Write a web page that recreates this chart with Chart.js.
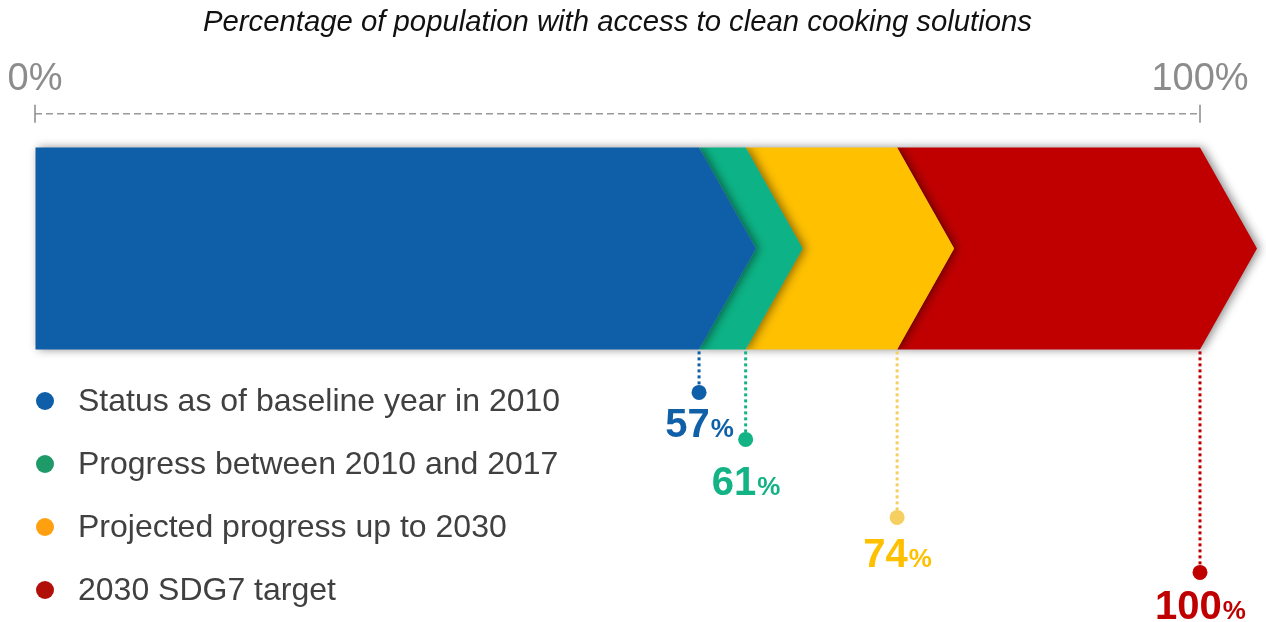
<!DOCTYPE html>
<html>
<head>
<meta charset="utf-8">
<script src="https://cdn.jsdelivr.net/npm/chart.js@4/dist/chart.umd.min.js"></script>
<style>
  html, body { margin: 0; padding: 0; background: #fff; }
  canvas { display: block; }
</style>
</head>
<body>
<canvas id="chart" width="1266" height="622"></canvas>
<script>
// data
const seriesNames = ['Status as of baseline year in 2010', 'Progress between 2010 and 2017', 'Projected progress up to 2030', '2030 SDG7 target'];
const segStart = [0, 57, 61, 74];
const segEnd = [57, 61, 74, 100];
const axisTicks = [0, 100];
const titleText = 'Percentage of population with access to clean cooking solutions';

// styles
const barColors = ['#0E5FA8', '#0DB386', '#FFC000', '#C00000'];
const legendColors = ['#0E5FA8', '#1E9A68', '#FFA010', '#B01008'];
const markerColors = ['#0E5FA8', '#13B386', '#F5D060', '#C00000'];
const labelColors = ['#1060A8', '#13B386', '#FFC000', '#C00000'];
const dropLen = [43, 90, 168, 223];
const labelOffset = [31, 42, 36, 33];
const CHEVRON = 57;
const FONT = '"Liberation Sans", Arial, sans-serif';

const chevronPlugin = {
  id: 'chevrons',
  beforeDatasetDraw(chart, args) {
    const ctx = chart.ctx;
    const i = args.index;
    const el = args.meta.data[0];
    const p = el.getProps(['x', 'y', 'base', 'height'], true);
    const top = p.y - p.height / 2, bot = p.y + p.height / 2;
    ctx.save();
    ctx.beginPath();
    ctx.moveTo(p.base, top);
    ctx.lineTo(p.x, top);
    ctx.lineTo(p.x + CHEVRON, p.y);
    ctx.lineTo(p.x, bot);
    ctx.lineTo(p.base, bot);
    if (i > 0) ctx.lineTo(p.base + CHEVRON, p.y);
    ctx.closePath();
    ctx.shadowColor = 'rgba(0,0,0,0.45)';
    ctx.shadowBlur = 10;
    ctx.shadowOffsetX = 3;
    ctx.fillStyle = barColors[i];
    ctx.fill();
    ctx.restore();
    return false;
  },
  afterDraw(chart) {
    const ctx = chart.ctx;
    const xs = chart.scales.x;
    ctx.save();
    // dashed axis line with tick marks crossing it
    const ay = chart.chartArea.top;
    const x0p = xs.getPixelForValue(axisTicks[0]);
    const x1p = xs.getPixelForValue(axisTicks[axisTicks.length - 1]);
    ctx.strokeStyle = '#999';
    ctx.lineWidth = 1.5;
    ctx.setLineDash([7, 4]);
    ctx.beginPath();
    ctx.moveTo(x0p, ay);
    ctx.lineTo(x1p, ay);
    ctx.stroke();
    ctx.setLineDash([]);
    ctx.strokeStyle = '#888';
    axisTicks.forEach(v => {
      const tx = xs.getPixelForValue(v);
      ctx.beginPath();
      ctx.moveTo(tx, ay - 9);
      ctx.lineTo(tx, ay + 9);
      ctx.stroke();
    });

    // drop lines, markers and value labels
    chart.data.datasets.forEach((ds, i) => {
      const el = chart.getDatasetMeta(i).data[0];
      const p = el.getProps(['x', 'y', 'height'], true);
      const bot = p.y + p.height / 2;
      const my = bot + dropLen[i];
      ctx.strokeStyle = markerColors[i];
      ctx.lineWidth = 3;
      ctx.setLineDash([3, 3]);
      ctx.beginPath();
      ctx.moveTo(p.x, bot + 2);
      ctx.lineTo(p.x, my);
      ctx.stroke();
      ctx.setLineDash([]);
      ctx.fillStyle = markerColors[i];
      ctx.beginPath();
      ctx.arc(p.x, my, 7.5, 0, Math.PI * 2);
      ctx.fill();

      const num = String(segEnd[i]);
      const fBig = 'bold 40px ' + FONT, fSmall = 'bold 26px ' + FONT;
      ctx.font = fBig;
      const w1 = ctx.measureText(num).width;
      ctx.font = fSmall;
      const w2 = ctx.measureText('%').width;
      const lx = p.x - (w1 + w2) / 2;
      const ly = my + labelOffset[i] + 14;
      ctx.fillStyle = labelColors[i];
      ctx.textBaseline = 'alphabetic';
      ctx.textAlign = 'left';
      ctx.font = fBig;
      ctx.fillText(num, lx, ly);
      ctx.font = fSmall;
      ctx.fillText('%', lx + w1 + 1, ly);
    });
    // legend
    ctx.font = '32px ' + FONT;
    ctx.textBaseline = 'middle';
    ctx.textAlign = 'left';
    seriesNames.forEach((name, i) => {
      const y = 401 + i * 63;
      ctx.fillStyle = legendColors[i];
      ctx.beginPath();
      ctx.arc(45, y, 9, 0, Math.PI * 2);
      ctx.fill();
      ctx.fillStyle = '#404040';
      ctx.fillText(name, 78, y + 1);
    });
    ctx.restore();
  }
};

new Chart(document.getElementById('chart'), {
  type: 'bar',
  data: {
    labels: [''],
    datasets: seriesNames.map((name, i) => ({
      label: name,
      data: [[segStart[i], segEnd[i]]],
      backgroundColor: barColors[i],
      barThickness: 202,
      grouped: false
    }))
  },
  options: {
    indexAxis: 'y',
    responsive: false,
    animation: false,
    layout: { padding: { left: 35, right: 66, top: 0, bottom: 239 } },
    scales: {
      x: {
        position: 'top',
        min: 0,
        max: 100,
        afterBuildTicks(scale) { scale.ticks = axisTicks.map(v => ({ value: v })); },
        ticks: {
          callback: v => v + '%',
          color: '#8C8C8C',
          font: { family: FONT, size: 38 },
          padding: 1,
          maxRotation: 0
        },
        grid: { drawOnChartArea: false, drawTicks: true, tickLength: 10, color: 'rgba(0,0,0,0)' },
        border: { display: false }
      },
      y: { display: false }
    },
    plugins: {
      legend: { display: false },
      tooltip: { enabled: false },
      title: {
        display: true,
        text: titleText,
        color: '#111',
        font: { family: FONT, size: 29.3, style: 'italic', weight: 'normal' },
        padding: { top: 5, bottom: 16 }
      }
    }
  },
  plugins: [chevronPlugin]
});
</script>
</body>
</html>
